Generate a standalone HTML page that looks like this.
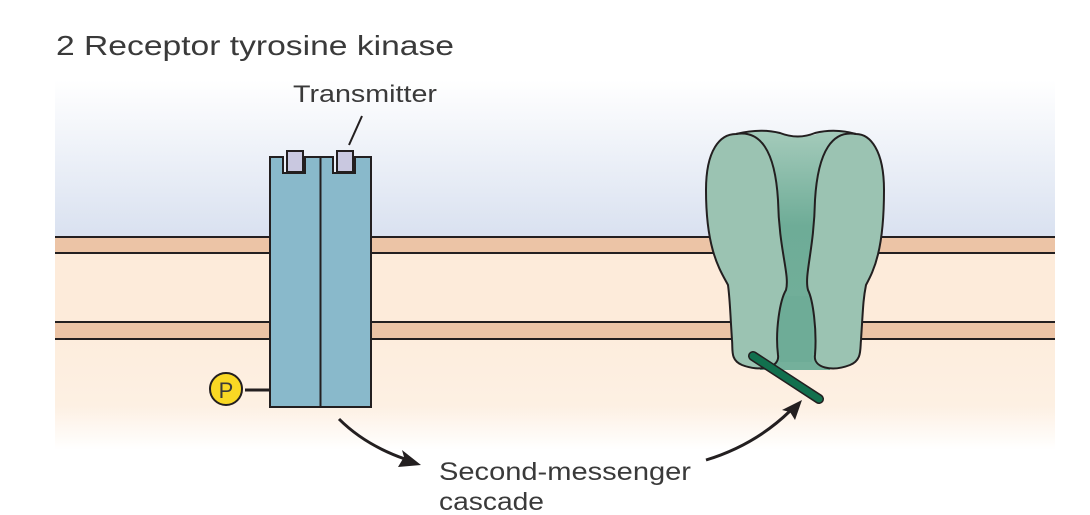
<!DOCTYPE html>
<html><head><meta charset="utf-8"><style>
html,body{margin:0;padding:0;background:#fff;}
svg{display:block;}
text{font-family:"Liberation Sans",sans-serif;fill:#3a3a3a;}
</style></head><body>
<svg width="1090" height="515" viewBox="0 0 1090 515" xmlns="http://www.w3.org/2000/svg">
<defs>
<linearGradient id="sky" x1="0" y1="0" x2="0" y2="1">
<stop offset="0" stop-color="#ffffff"/>
<stop offset="1" stop-color="#d9e1f0"/>
</linearGradient>
<linearGradient id="cyto" x1="0" y1="0" x2="0" y2="1">
<stop offset="0" stop-color="#fdeddd"/>
<stop offset="0.6" stop-color="#fdf0e3"/>
<stop offset="1" stop-color="#ffffff"/>
</linearGradient>
<linearGradient id="pore" x1="0" y1="0" x2="0" y2="1">
<stop offset="0" stop-color="#a5cbbb"/>
<stop offset="0.4" stop-color="#6eac97"/>
<stop offset="1" stop-color="#74b09b"/>
</linearGradient>
</defs>
<rect x="55" y="80" width="1000" height="157" fill="url(#sky)"/>
<rect x="55" y="237" width="1000" height="103" fill="#fdebda"/>
<rect x="55" y="340" width="1000" height="110" fill="url(#cyto)"/>
<rect x="55" y="237" width="1000" height="16" fill="#ecc4a6"/>
<line x1="55" y1="237" x2="1055" y2="237" stroke="#231f20" stroke-width="2"/>
<line x1="55" y1="253" x2="1055" y2="253" stroke="#231f20" stroke-width="2"/>
<rect x="55" y="322" width="1000" height="17" fill="#ecc4a6"/>
<line x1="55" y1="322" x2="1055" y2="322" stroke="#231f20" stroke-width="2"/>
<line x1="55" y1="339" x2="1055" y2="339" stroke="#231f20" stroke-width="2"/>

<path d="M270,157 H283 V173 H305 V157 H333 V173 H355 V157 H371 V407 H270 Z" fill="#89b9cb" stroke="#231f20" stroke-width="2"/>
<line x1="320.5" y1="157" x2="320.5" y2="407" stroke="#231f20" stroke-width="2"/>
<rect x="287" y="151" width="16" height="21" fill="#c9c8e0" stroke="#231f20" stroke-width="2"/>
<rect x="337" y="151" width="16" height="21" fill="#c9c8e0" stroke="#231f20" stroke-width="2"/>
<line x1="349" y1="145" x2="362" y2="116" stroke="#231f20" stroke-width="2"/>
<line x1="245" y1="390" x2="270" y2="390" stroke="#231f20" stroke-width="3"/>
<circle cx="226" cy="389" r="16" fill="#f9d824" stroke="#231f20" stroke-width="2"/>
<text x="226" y="398" font-size="22" text-anchor="middle">P</text>

<path d="M735,135 Q760,128 780,133 Q800,140 820,133 Q840,126 860,135 L830,370 L760,370 Z" fill="url(#pore)"/>
<path d="M777,296 L813,296 L812,362 L780,362 Z" fill="#6eac97"/>
<path d="M736,134 C760,130 775,150 778,200 C779,250 790,275 786,290 C780,300 775,330 778,355 C780,368 760,372 742,365 C730,360 733,350 732,340 C730,310 730,300 728,285 C720,270 706,250 706,190 C706,150 720,134 736,134 Z" fill="#9bc3b2" stroke="#231f20" stroke-width="2"/>
<path d="M856,134 C833,130 818,150 815,200 C814,250 804,275 808,290 C813,300 817,330 815,355 C813,368 832,372 850,365 C862,360 860,350 861,340 C863,310 863,300 866,285 C874,270 884,250 884,190 C884,150 870,134 856,134 Z" fill="#9bc3b2" stroke="#231f20" stroke-width="2"/>
<path d="M736,134 Q760,128 780,133 Q798,140 815,133 Q835,128 856,134" fill="none" stroke="#231f20" stroke-width="2"/>
<line x1="753" y1="356" x2="819" y2="399" stroke="#231f20" stroke-width="10" stroke-linecap="round"/>
<line x1="753" y1="356" x2="819" y2="399" stroke="#12704e" stroke-width="7" stroke-linecap="round"/>

<path d="M339,419 Q365,445 405,459" fill="none" stroke="#231f20" stroke-width="3"/>
<path d="M421,465 L398,467 L404,457 L402,450 Z" fill="#231f20"/>
<path d="M706,460 Q755,445 790,411" fill="none" stroke="#231f20" stroke-width="3"/>
<path d="M802,400 L795,420 L790,412 L782,410 Z" fill="#231f20"/>

<text x="56" y="55" font-size="28" textLength="398" lengthAdjust="spacingAndGlyphs">2  Receptor tyrosine kinase</text>
<text x="293" y="102" font-size="24" textLength="144" lengthAdjust="spacingAndGlyphs">Transmitter</text>
<text x="439" y="480" font-size="25" textLength="252" lengthAdjust="spacingAndGlyphs">Second-messenger</text>
<text x="439" y="510" font-size="25" textLength="105" lengthAdjust="spacingAndGlyphs">cascade</text>
</svg>
</body></html>
